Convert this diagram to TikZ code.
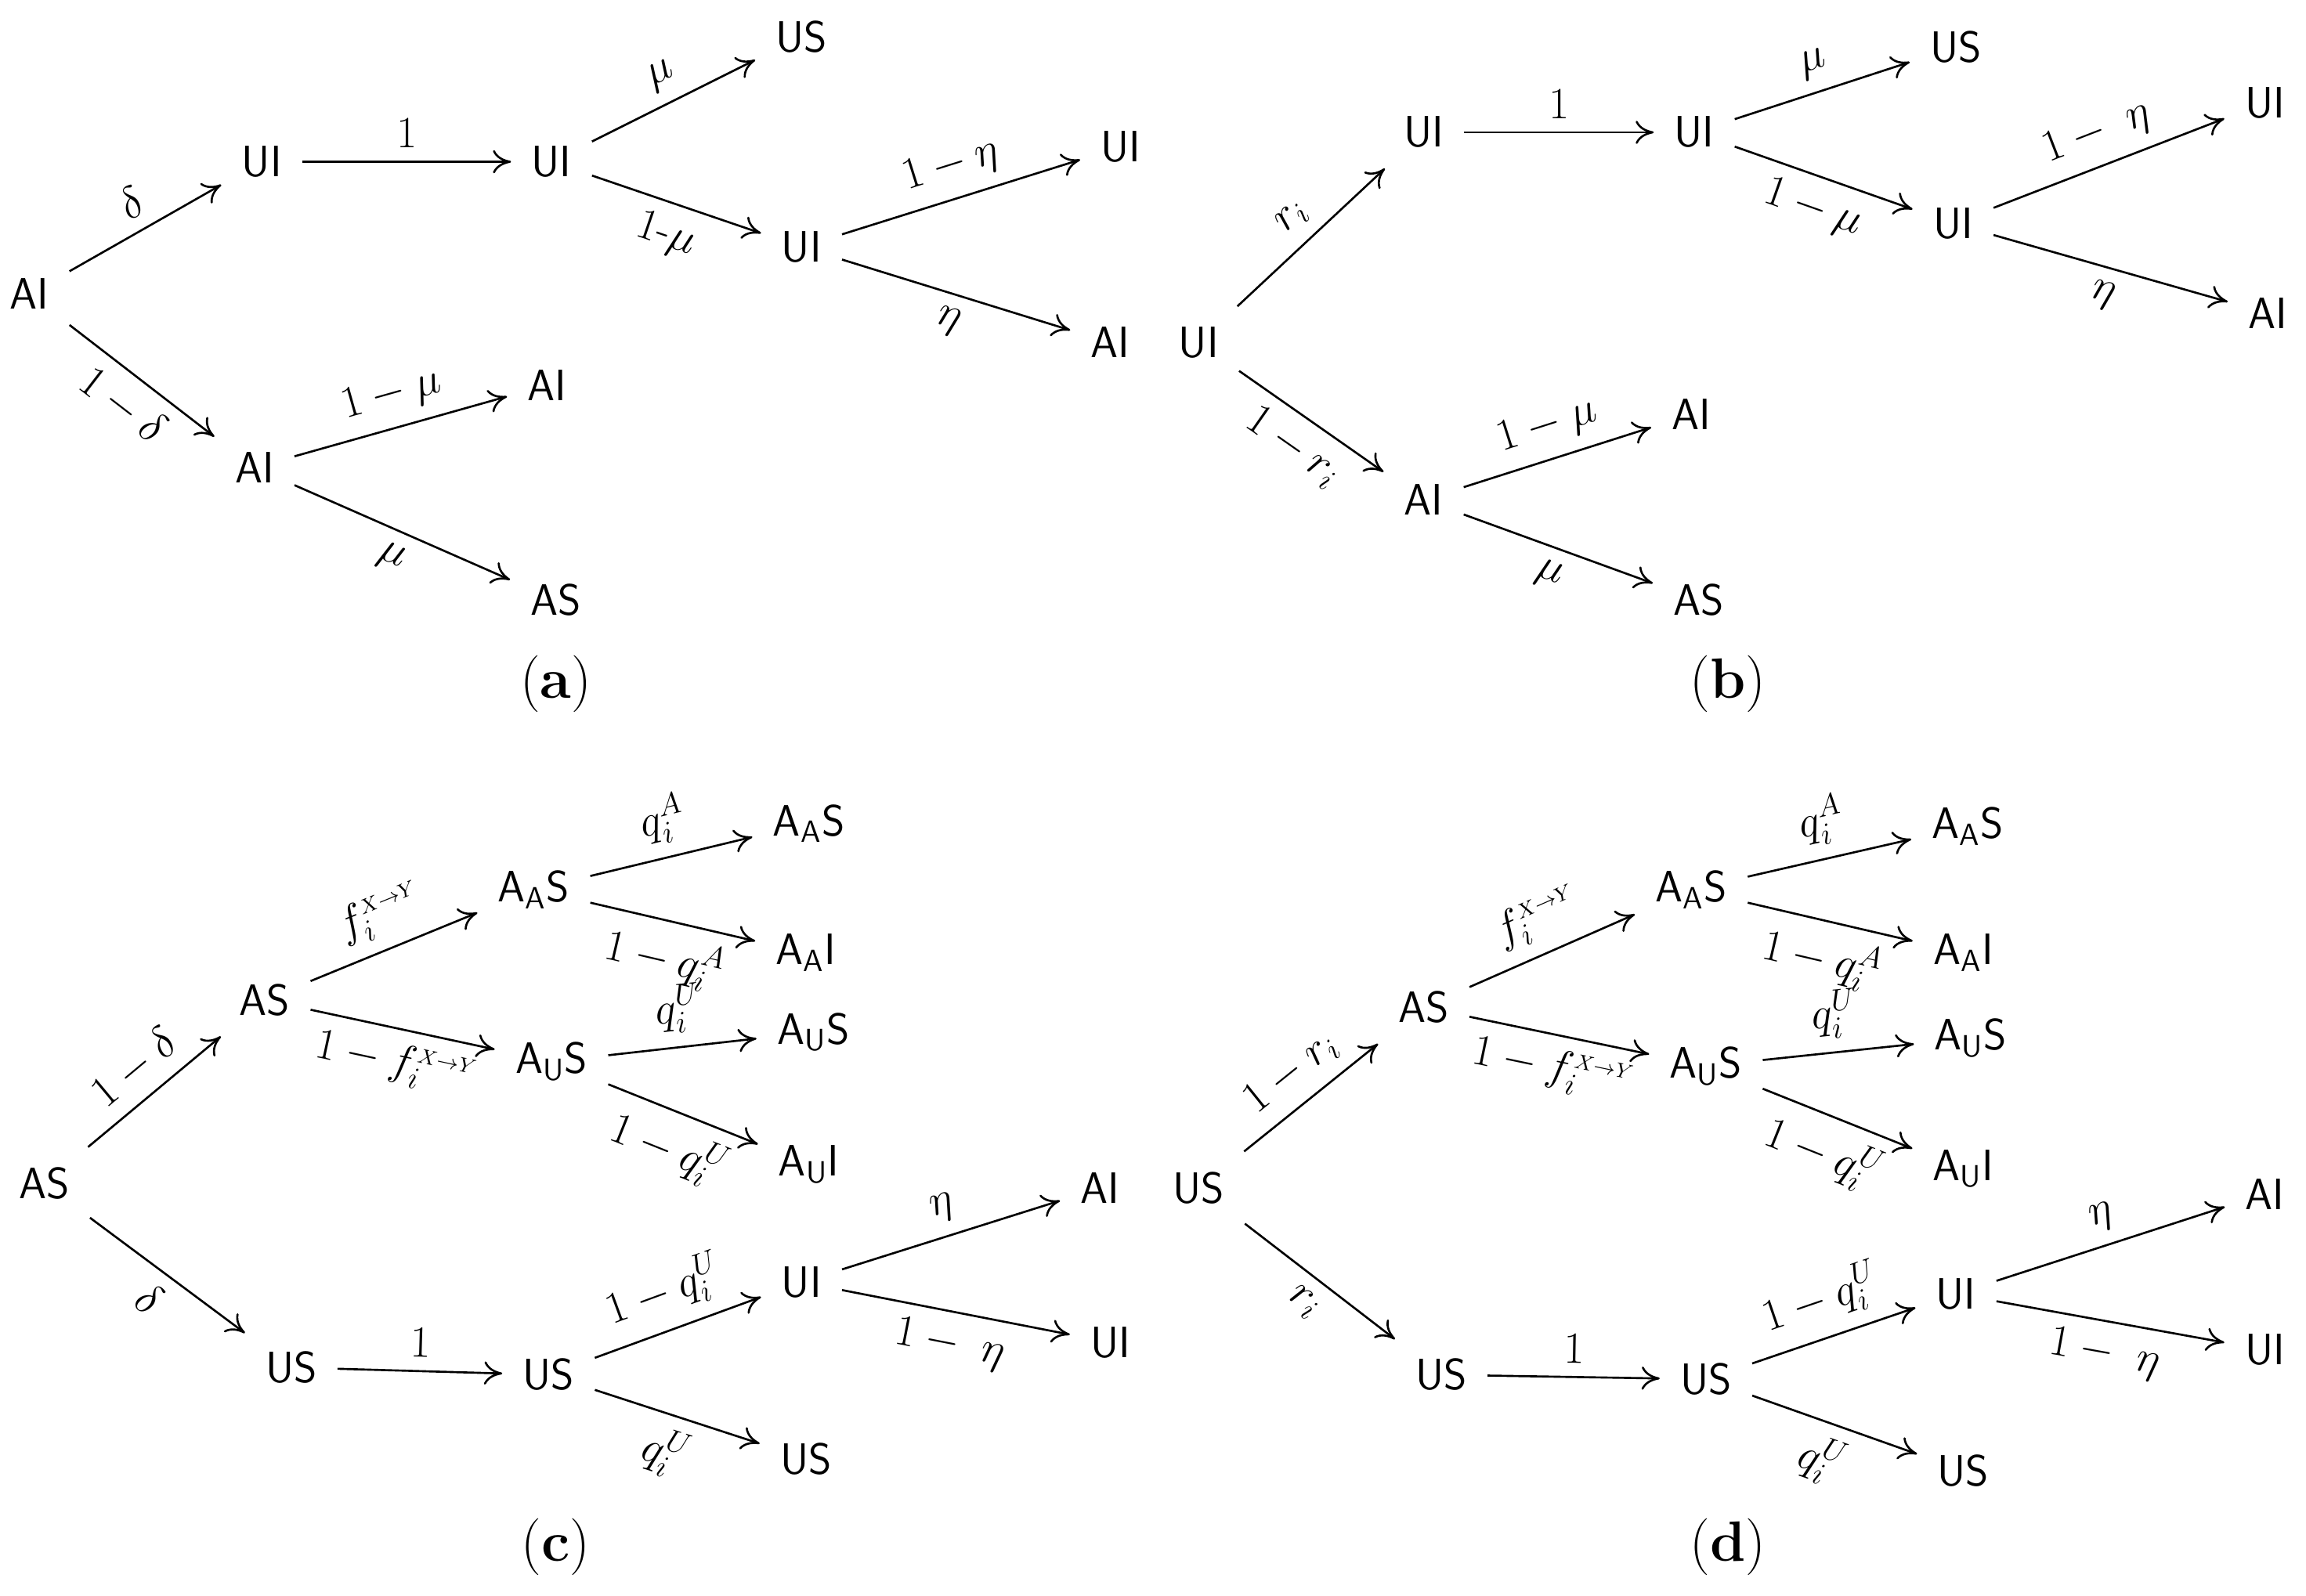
\documentclass[tikz,border=0pt]{standalone}
\usetikzlibrary{arrows.meta}
\begin{document}
\begin{tikzpicture}[x=0.02cm,y=-0.02cm,
  n/.style={font=\fontsize{17}{20}\selectfont\sffamily,inner sep=1pt,outer sep=7pt},
  e/.style={draw,line width=0.8pt,-{To[length=7pt,width=9pt]}},
  lab/.style={font=\fontsize{17}{20}\selectfont,sloped,inner sep=5pt},
  captext/.style={font=\fontsize{22}{26}\selectfont}]
\useasboundingbox (0,0) rectangle (1568,1085);
% (a)
\node[n] (a0) at (20,200) {AI};
\node[n] (a1) at (178,110) {UI};
\node[n] (a2) at (173,318) {AI};
\node[n] (a3) at (375,110) {UI};
\node[n] (a4) at (545,25) {US};
\node[n] (a5) at (545,168) {UI};
\node[n] (a6) at (762,100) {UI};
\node[n] (a7) at (755,233) {AI};
\node[n] (a8) at (372,262) {AI};
\node[n] (a9) at (378,408) {AS};
\draw[e] (a0) -- node[lab,above]{$\delta$} (a1);
\draw[e] (a0) -- node[lab,below]{$1-\delta$} (a2);
\draw[e] (a1) -- node[lab,above]{$1$} (a3);
\draw[e] (a3) -- node[lab,above]{$\mu$} (a4);
\draw[e] (a3) -- node[lab,below]{$1$-$\mu$} (a5);
\draw[e] (a5) -- node[lab,above]{$1-\eta$} (a6);
\draw[e] (a5) -- node[lab,below]{$\eta$} (a7);
\draw[e] (a2) -- node[lab,above]{$1-\mu$} (a8);
\draw[e] (a2) -- node[lab,below]{$\mu$} (a9);
\node[captext] (ca) at (378,465) {(\textbf{a})};
% (b)
\node[n] (b0) at (815,233) {UI};
\node[n] (b1) at (968,90) {UI};
\node[n] (b2) at (968,340) {AI};
\node[n] (b3) at (1152,90) {UI};
\node[n] (b4) at (1330,32) {US};
\node[n] (b5) at (1328,152) {UI};
\node[n] (b6) at (1540,70) {UI};
\node[n] (b7) at (1542,213) {AI};
\node[n] (b8) at (1150,282) {AI};
\node[n] (b9) at (1155,408) {AS};
\draw[e] (b0) -- node[lab,above]{$r_i$} (b1);
\draw[e] (b0) -- node[lab,below]{$1-r_i$} (b2);
\draw[e] (b1) -- node[lab,above]{$1$} (b3);
\draw[e] (b3) -- node[lab,above]{$\mu$} (b4);
\draw[e] (b3) -- node[lab,below]{$1-\mu$} (b5);
\draw[e] (b5) -- node[lab,above]{$1-\ \eta$} (b6);
\draw[e] (b5) -- node[lab,below]{$\eta$} (b7);
\draw[e] (b2) -- node[lab,above]{$1-\mu$} (b8);
\draw[e] (b2) -- node[lab,below]{$\mu$} (b9);
\node[captext] (cb) at (1175,465) {(\textbf{b})};
% (c)
\node[n] (c0) at (30,805) {AS};
\node[n] (c1) at (180,680) {AS};
\node[n] (c2) at (198,930) {US};
\node[n] (c3) at (363,605) {A\textsubscript{A}S};
\node[n] (c4) at (375,722) {A\textsubscript{U}S};
\node[n] (c5) at (550,560) {A\textsubscript{A}S};
\node[n] (c6) at (548,648) {A\textsubscript{A}I};
\node[n] (c7) at (553,702) {A\textsubscript{U}S};
\node[n] (c8) at (550,792) {A\textsubscript{U}I};
\node[n] (c9) at (373,935) {US};
\node[n] (c10) at (545,872) {UI};
\node[n] (c11) at (748,808) {AI};
\node[n] (c12) at (755,913) {UI};
\node[n] (c13) at (548,992) {US};
\draw[e] (c0) -- node[lab,above]{$1-\delta$} (c1);
\draw[e] (c0) -- node[lab,below]{$\delta$} (c2);
\draw[e] (c1) -- node[lab,above]{$f_i^{\scriptscriptstyle X\to Y}$} (c3);
\draw[e] (c1) -- node[lab,below]{$1-f_i^{\scriptscriptstyle X\to Y}$} (c4);
\draw[e] (c3) -- node[lab,above]{$q_i^A$} (c5);
\draw[e] (c3) -- node[lab,below]{$1-q_i^A$} (c6);
\draw[e] (c4) -- node[lab,above]{$q_i^U$} (c7);
\draw[e] (c4) -- node[lab,below]{$1-q_i^U$} (c8);
\draw[e] (c2) -- node[lab,above]{$1$} (c9);
\draw[e] (c9) -- node[lab,above]{$1-q_i^U$} (c10);
\draw[e] (c9) -- node[lab,below]{$q_i^U$} (c13);
\draw[e] (c10) -- node[lab,above]{$\eta$} (c11);
\draw[e] (c10) -- node[lab,below]{$1-\ \eta$} (c12);
\node[captext] (cc) at (378,1052) {(\textbf{c})};
% (d)
\node[n] (d0) at (815,808) {US};
\node[n] (d1) at (968,685) {AS};
\node[n] (d2) at (980,935) {US};
\node[n] (d3) at (1150,605) {A\textsubscript{A}S};
\node[n] (d4) at (1160,725) {A\textsubscript{U}S};
\node[n] (d5) at (1338,562) {A\textsubscript{A}S};
\node[n] (d6) at (1335,648) {A\textsubscript{A}I};
\node[n] (d7) at (1340,706) {A\textsubscript{U}S};
\node[n] (d8) at (1335,795) {A\textsubscript{U}I};
\node[n] (d9) at (1160,938) {US};
\node[n] (d10) at (1330,880) {UI};
\node[n] (d11) at (1540,812) {AI};
\node[n] (d12) at (1540,918) {UI};
\node[n] (d13) at (1335,1000) {US};
\draw[e] (d0) -- node[lab,above]{$1-r_i$} (d1);
\draw[e] (d0) -- node[lab,below]{$r_i$} (d2);
\draw[e] (d1) -- node[lab,above]{$f_i^{\scriptscriptstyle X\to Y}$} (d3);
\draw[e] (d1) -- node[lab,below]{$1-f_i^{\scriptscriptstyle X\to Y}$} (d4);
\draw[e] (d3) -- node[lab,above]{$q_i^A$} (d5);
\draw[e] (d3) -- node[lab,below]{$1-q_i^A$} (d6);
\draw[e] (d4) -- node[lab,above]{$q_i^U$} (d7);
\draw[e] (d4) -- node[lab,below]{$1-q_i^U$} (d8);
\draw[e] (d2) -- node[lab,above]{$1$} (d9);
\draw[e] (d9) -- node[lab,above]{$1-q_i^U$} (d10);
\draw[e] (d9) -- node[lab,below]{$q_i^U$} (d13);
\draw[e] (d10) -- node[lab,above]{$\eta$} (d11);
\draw[e] (d10) -- node[lab,below]{$1-\ \eta$} (d12);
\node[captext] (cd) at (1175,1052) {(\textbf{d})};
\end{tikzpicture}
\end{document}
